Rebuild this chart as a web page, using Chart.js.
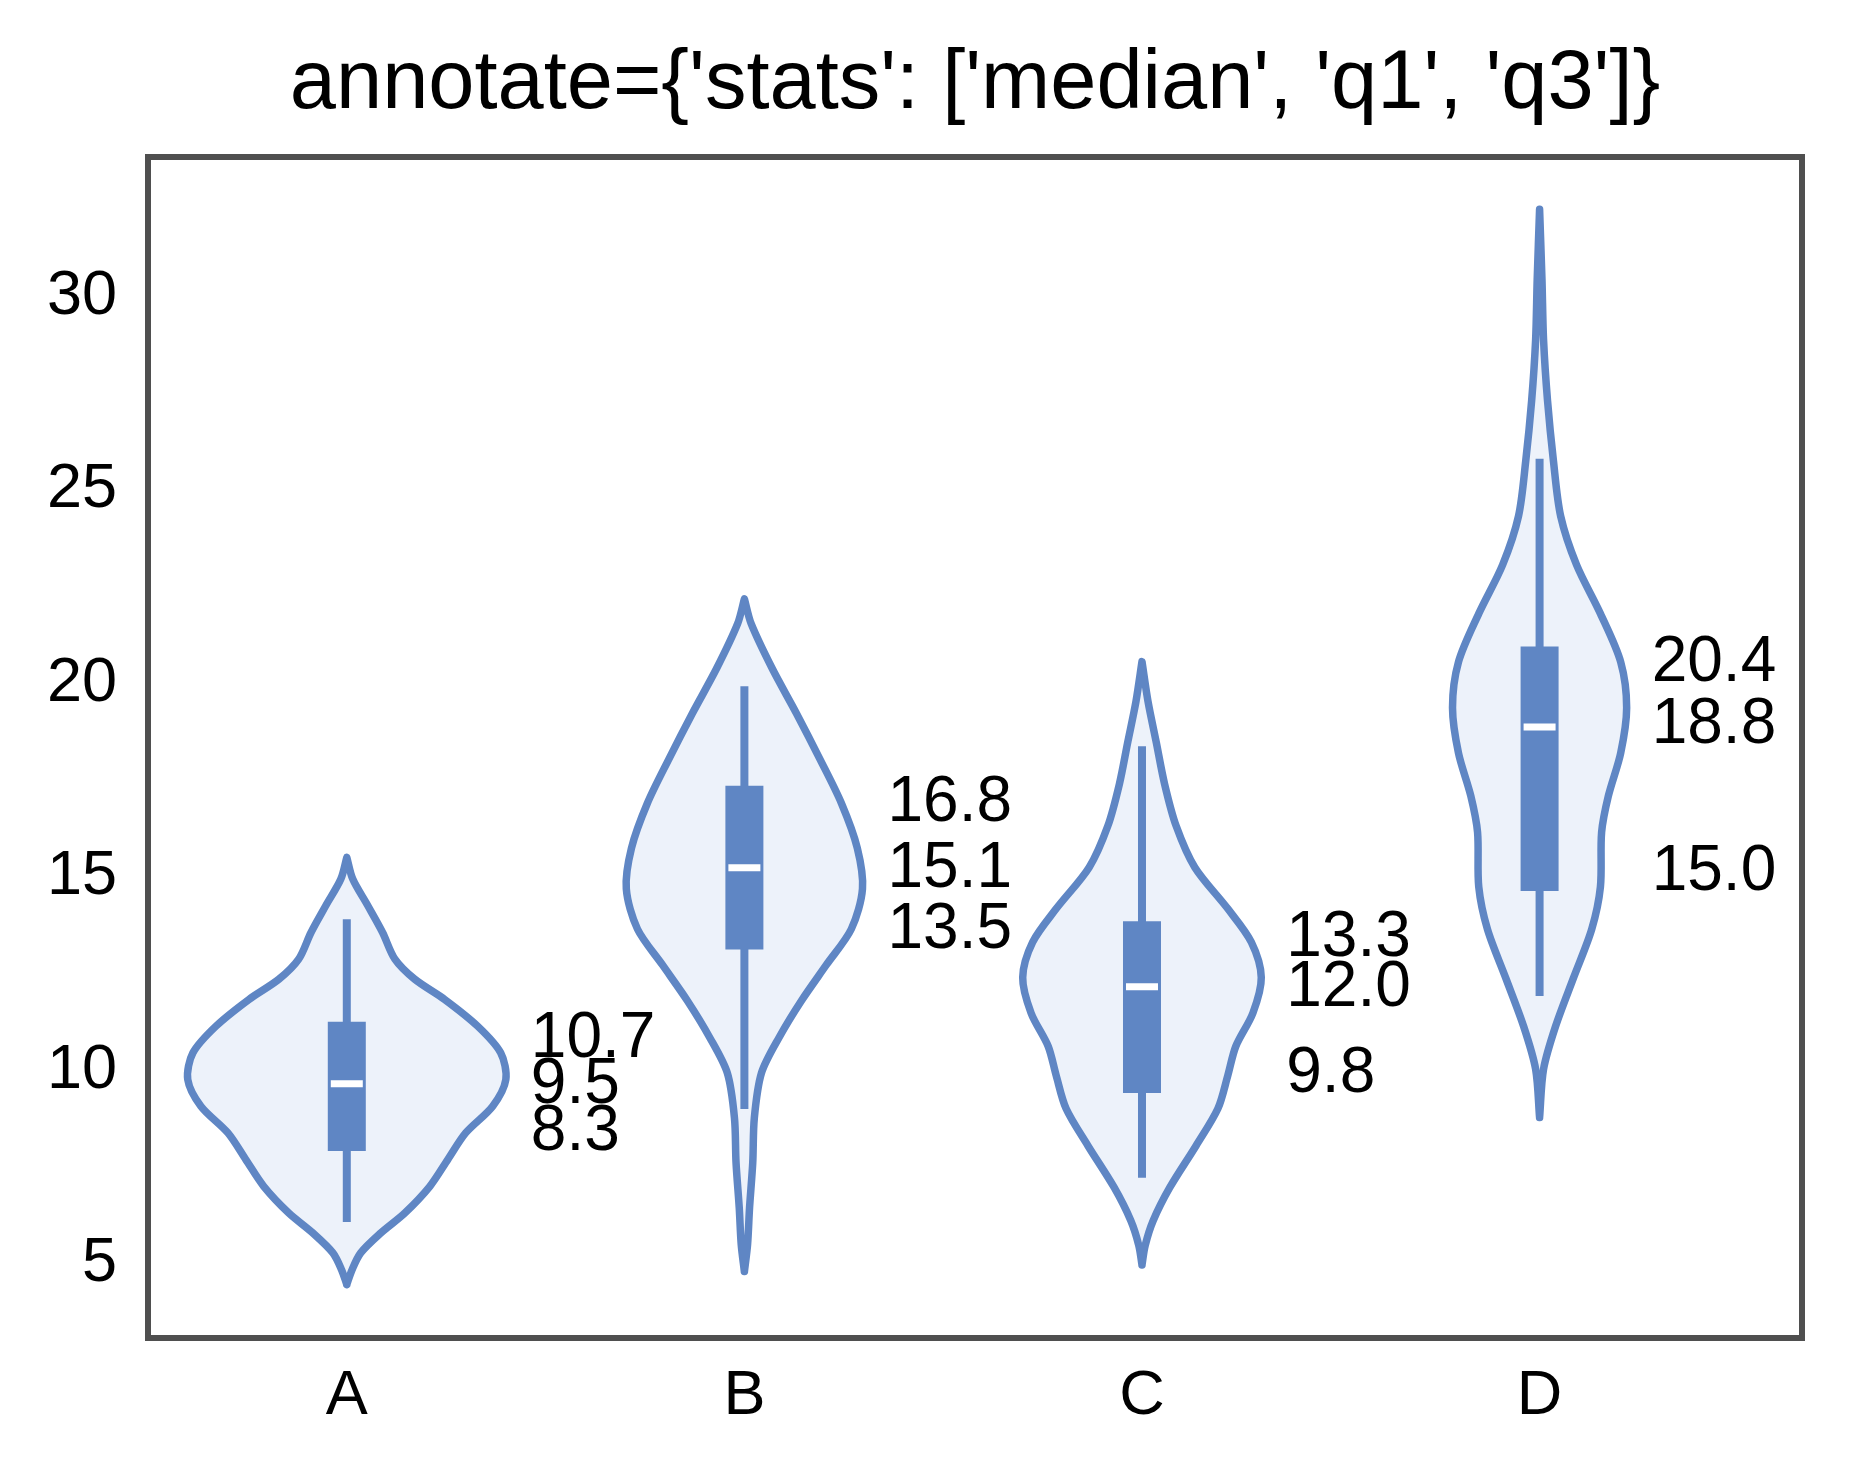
<!DOCTYPE html>
<html>
<head>
<meta charset="utf-8">
<title>violin annotate</title>
<script src="https://cdn.jsdelivr.net/npm/chart.js@4.4.1/dist/chart.umd.min.js"></script>
<style>
  html, body { margin: 0; padding: 0; background: #ffffff; overflow: hidden; }
  canvas { display: block; }
</style>
</head>
<body>
<canvas id="myChart" width="1849" height="1477"></canvas>
<script>
const categories = ['A', 'B', 'C', 'D'];
const yTicks = [5, 10, 15, 20, 25, 30];

// violin outlines: value levels and density half-widths (in category units)
const levelsA = [4.46, 4.84, 5.28, 5.79, 6.31, 7.00, 7.69, 8.38, 9.07, 9.76, 10.45, 11.14, 11.83, 12.35, 12.87, 13.56, 14.25, 14.94, 15.50];
const widthsA = [0, 0.013, 0.035, 0.085, 0.146, 0.209, 0.254, 0.299, 0.367, 0.400, 0.387, 0.329, 0.246, 0.171, 0.121, 0.090, 0.053, 0.015, 0];

const levelsB = [4.80, 5.50, 6.45, 7.61, 8.77, 9.93, 10.86, 11.79, 12.72, 13.65, 14.69, 15.74, 16.90, 18.06, 19.22, 20.38, 21.54, 22.18];
const widthsB = [0, 0.008, 0.013, 0.021, 0.025, 0.043, 0.088, 0.143, 0.206, 0.269, 0.297, 0.284, 0.244, 0.189, 0.131, 0.070, 0.017, 0];

const levelsC = [4.97, 5.47, 6.11, 6.97, 8.05, 9.01, 9.87, 10.62, 11.48, 12.40, 13.31, 14.17, 15.24, 16.31, 17.39, 18.47, 19.54, 20.56];
const widthsC = [0, 0.008, 0.028, 0.070, 0.136, 0.191, 0.216, 0.236, 0.279, 0.300, 0.275, 0.216, 0.133, 0.086, 0.057, 0.036, 0.015, 0];

const levelsD = [8.78, 10.03, 11.13, 12.38, 13.64, 14.74, 16.15, 17.09, 18.20, 19.37, 20.55, 21.80, 23.06, 24.32, 25.73, 27.30, 28.87, 30.44, 32.25];
const widthsD = [0, 0.010, 0.040, 0.085, 0.131, 0.153, 0.156, 0.173, 0.204, 0.219, 0.204, 0.153, 0.093, 0.053, 0.035, 0.020, 0.010, 0.006, 0];

// inner box plot
const whiskerLow = [6.08, 9.00, 7.22, 11.92];
const boxQ1 = [7.91, 13.12, 9.41, 14.63];
const boxMedian = [9.65, 15.23, 12.16, 18.87];
const boxQ3 = [11.25, 17.35, 13.85, 20.95];
const whiskerHigh = [13.90, 19.92, 18.37, 25.80];

// annotated stats text
const annotQ3 = [10.7, 16.8, 13.3, 20.4];
const annotMedian = [9.5, 15.1, 12.0, 18.8];
const annotQ1 = [8.3, 13.5, 9.8, 15.0];

const levels = [levelsA, levelsB, levelsC, levelsD];
const widths = [widthsA, widthsB, widthsC, widthsD];

const blue = '#5f86c4';
const lightFill = '#edf2fa';
const fontFamily = "'Liberation Sans', Arial, sans-serif";

function violinPoints(i) {
  const lv = levels[i], w = widths[i];
  const last = lv.length - 1;
  const pts = [];
  for (let k = 0; k <= last; k++) pts.push({ x: i - w[k], y: lv[k] });
  // repeat the top tip so the spline keeps a pointed end
  pts.push({ x: i + w[last], y: lv[last] });
  for (let k = last - 1; k >= 0; k--) pts.push({ x: i + w[k], y: lv[k] });
  return pts;
}

const datasets = [];
categories.forEach((c, i) => {
  datasets.push({
    label: c + ' violin',
    data: violinPoints(i),
    borderColor: blue,
    backgroundColor: lightFill,
    borderWidth: 7.5,
    borderJoinStyle: 'round',
    borderCapStyle: 'round',
    fill: 'shape',
    tension: 0.3,
    pointRadius: 0,
    order: 4
  });
  datasets.push({
    label: c + ' whisker',
    data: [{ x: i, y: whiskerLow[i] }, { x: i, y: whiskerHigh[i] }],
    borderColor: blue,
    borderWidth: 8,
    borderCapStyle: 'butt',
    fill: false,
    pointRadius: 0,
    order: 3
  });
  datasets.push({
    label: c + ' box',
    data: [{ x: i, y: boxQ1[i] }, { x: i, y: boxQ3[i] }],
    borderColor: blue,
    borderWidth: 38,
    borderCapStyle: 'butt',
    fill: false,
    pointRadius: 0,
    order: 2
  });
  datasets.push({
    label: c + ' median',
    data: [{ x: i, y: boxMedian[i] }],
    showLine: false,
    pointStyle: 'line',
    pointRadius: 16,
    pointBorderWidth: 7,
    pointBorderColor: '#ffffff',
    pointBackgroundColor: '#ffffff',
    order: 1
  });
});

const framePlugin = {
  id: 'frameAndText',
  afterDraw(chart) {
    const ctx = chart.ctx;
    const a = chart.chartArea;
    const xs = chart.scales.x, ys = chart.scales.y;
    ctx.save();
    // axes frame
    ctx.strokeStyle = '#4f4f4f';
    ctx.lineWidth = 6;
    ctx.strokeRect(a.left, a.top, a.right - a.left, a.bottom - a.top);
    // stat annotations
    ctx.fillStyle = '#000000';
    ctx.font = '64px ' + fontFamily;
    ctx.textAlign = 'left';
    ctx.textBaseline = 'middle';
    categories.forEach((c, i) => {
      const tx = xs.getPixelForValue(i + Math.max(...widths[i])) + 25;
      [annotQ3[i], annotMedian[i], annotQ1[i]].forEach(v => {
        ctx.fillText(v.toFixed(1), tx, ys.getPixelForValue(v) - 4);
      });
    });
    // title
    ctx.font = '83px ' + fontFamily;
    ctx.textAlign = 'center';
    ctx.textBaseline = 'alphabetic';
    ctx.fillText("annotate={'stats': ['median', 'q1', 'q3']}", (a.left + a.right) / 2, 108);
    ctx.restore();
  }
};

const config = {
  type: 'line',
  data: { datasets: datasets },
  options: {
    responsive: false,
    animation: false,
    devicePixelRatio: 1,
    layout: { padding: { top: 157, right: 47, bottom: 0, left: 0 } },
    plugins: { legend: { display: false }, tooltip: { enabled: false } },
    scales: {
      x: {
        type: 'linear',
        min: -0.5,
        max: 3.66,
        grid: { display: false, drawTicks: false },
        border: { display: false },
        afterBuildTicks: axis => { axis.ticks = categories.map((c, i) => ({ value: i })); },
        afterFit: axis => { axis.height = 139; },
        ticks: {
          padding: 21,
          color: '#000000',
          font: { family: fontFamily, size: 63 },
          callback: v => categories[v]
        }
      },
      y: {
        type: 'linear',
        min: 3.08,
        max: 33.6,
        grid: { display: false, drawTicks: false },
        border: { display: false },
        afterBuildTicks: axis => { axis.ticks = yTicks.map(v => ({ value: v })); },
        afterFit: axis => { axis.width = 148; },
        ticks: {
          padding: 31,
          color: '#000000',
          font: { family: fontFamily, size: 63 }
        }
      }
    }
  },
  plugins: [framePlugin]
};

const myChart = new Chart(document.getElementById('myChart'), config);
</script>
</body>
</html>
